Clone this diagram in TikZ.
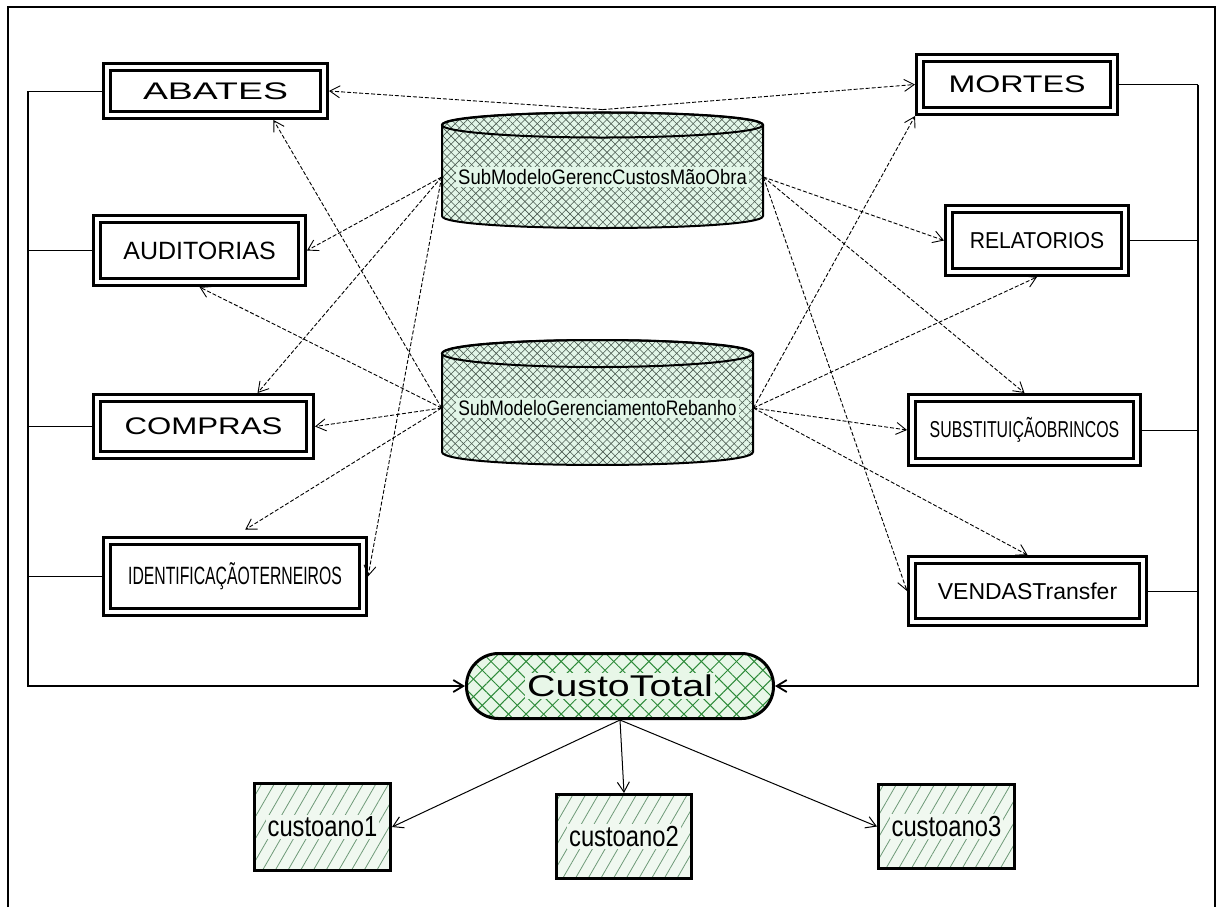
\documentclass[tikz,border=0pt]{standalone}
\usepackage{fontspec}
\setmainfont{Liberation Sans}
\usetikzlibrary{arrows.meta,patterns.meta}
\definecolor{cylfill}{HTML}{E2F6E8}
\definecolor{cylhatch}{HTML}{4A5A50}
\definecolor{ctfill}{HTML}{E8F7E8}
\definecolor{cthatch}{HTML}{2E8B3A}
\definecolor{anofill}{HTML}{F0F8F0}
\definecolor{anohatch}{HTML}{6E9A78}
\newcommand{\lbl}[3]{\scalebox{#1}[1]{\fontsize{#2pt}{#2pt}\selectfont #3}}
\setlength{\fboxsep}{1pt}
\begin{document}
\begin{tikzpicture}[x=0.5pt,y=-0.5pt,
  dbox/.style={draw,double,line width=1.5pt,double distance=2pt,outer sep=2.5pt,inner sep=0pt},
  subm/.style={draw,line width=1pt,preaction={fill=cylfill},
    preaction={pattern={Lines[angle=45,distance=2.9pt,line width=0.3pt]},pattern color=cylhatch},
    preaction={pattern={Lines[angle=-45,distance=2.9pt,line width=0.3pt]},pattern color=cylhatch}},
  ctbox/.style={draw,line width=1.5pt,rounded corners=16pt,inner sep=0pt,preaction={fill=ctfill},
    preaction={pattern={Lines[angle=45,distance=6.2pt,line width=0.5pt]},pattern color=cthatch},
    preaction={pattern={Lines[angle=-45,distance=6.2pt,line width=0.5pt]},pattern color=cthatch}},
  anobox/.style={draw,line width=1.5pt,inner sep=0pt,preaction={fill=anofill},
    preaction={pattern={Lines[angle=60,distance=5.5pt,line width=0.4pt]},pattern color=anohatch}},
  link/.style={line width=0.5pt},
  bus/.style={line width=0.9pt},
  dep/.style={dash pattern=on 2pt off 1pt,line width=0.45pt,-{Straight Barb[length=5pt,width=6pt]}},
  feed/.style={line width=0.5pt,-{Straight Barb[length=5pt,width=6pt]}}]
\def\px{0.5pt}
\useasboundingbox (0,0) rectangle (1217,907);
\draw[line width=1pt] (8,907) -- (8,7) -- (1215,7) -- (1215,907);

\path[subm] (442,125) -- (442,216) .. controls (442,232) and (763,232) .. (763,216) -- (763,125) .. controls (763,108.3) and (442,108.3) .. (442,125) -- cycle;
\draw[line width=1pt] (602.5,125) ellipse (160.5 and 12.5);
\node[minimum width=321*\px,minimum height=134*\px,inner sep=0pt] (subA) at (602.5,177) {\colorbox{cylfill}{\lbl{0.88}{10.5}{SubModeloGerencCustosMãoObra}}};

\path[subm] (442,353.5) -- (442,452) .. controls (442,469.3) and (753,469.3) .. (753,452) -- (753,353.5) .. controls (753,335.5) and (442,335.5) .. (442,353.5) -- cycle;
\draw[line width=1pt] (597.5,353.5) ellipse (155.5 and 13.5);
\node[minimum width=311*\px,minimum height=100*\px,inner sep=0pt] (subB) at (597.5,408) {\colorbox{cylfill}{\lbl{0.83}{10.5}{SubModeloGerenciamentoRebanho}}};

\node[dbox,minimum width=217*\px,minimum height=48*\px] (abates) at (215.5,91) {\lbl{1.56}{12}{ABATES}};
\node[dbox,minimum width=205*\px,minimum height=63*\px] (audit) at (199.5,250.5) {\lbl{1}{12.5}{AUDITORIAS}};
\node[dbox,minimum width=213*\px,minimum height=57*\px] (compras) at (203.5,426.5) {\lbl{1.3}{12}{COMPRAS}};
\node[dbox,minimum width=256*\px,minimum height=71*\px] (ident) at (235,576.5) {\lbl{0.63}{12.5}{IDENTIFICAÇÃOTERNEIROS}};
\node[dbox,minimum width=194*\px,minimum height=53*\px] (mortes) at (1017,84.5) {\lbl{1.34}{12}{MORTES}};
\node[dbox,minimum width=176*\px,minimum height=63*\px] (relat) at (1037,240.5) {\lbl{0.92}{11.5}{RELATORIOS}};
\node[dbox,minimum width=225*\px,minimum height=64*\px] (subst) at (1024.5,430) {\lbl{0.69}{11.5}{SUBSTITUIÇÃOBRINCOS}};
\node[dbox,minimum width=231*\px,minimum height=62*\px] (vendas) at (1027.5,591) {\lbl{1}{11.5}{VENDASTransfer}};

\node[ctbox,minimum width=307*\px,minimum height=65*\px] (custo) at (620,686) {\colorbox{ctfill}{\lbl{1.31}{15}{CustoTotal}}};
\node[anobox,minimum width=136*\px,minimum height=87*\px] (ano1) at (322.5,827) {\colorbox{anofill}{\lbl{0.82}{14.5}{custoano1}}};
\node[anobox,minimum width=135*\px,minimum height=84*\px] (ano2) at (624,836.5) {\colorbox{anofill}{\lbl{0.82}{14.5}{custoano2}}};
\node[anobox,minimum width=136*\px,minimum height=84*\px] (ano3) at (946.5,826.5) {\colorbox{anofill}{\lbl{0.82}{14.5}{custoano3}}};

\draw[dep] (subA.north) -- (abates.east);
\draw[dep] (subA.north) -- (mortes.west);
\draw[dep] (subA.west) -- (audit.east);
\draw[dep] (subA.west) -- ([xshift=27pt]compras.north);
\draw[dep] (subA.west) -- (ident.east);
\draw[dep] (subA.east) -- (relat.west);
\draw[dep] (subA.east) -- (subst.north);
\draw[dep] (subA.east) -- (vendas.west);
\draw[dep] (subB.west) -- ([xshift=29pt]abates.south);
\draw[dep] (subB.west) -- (audit.south);
\draw[dep] (subB.west) -- (compras.east);
\draw[dep,shorten >=6pt] (subB.west) -- (ident.north);
\draw[dep] (subB.east) -- (mortes.south west);
\draw[dep] (subB.east) -- (relat.south);
\draw[dep] (subB.east) -- (subst.west);
\draw[dep] (subB.east) -- (vendas.north);

\coordinate (busL) at (28,686);
\coordinate (busR) at (1198,686);
\draw[link] (abates.west) -- (abates.west -| busL);
\draw[link] (audit.west) -- (audit.west -| busL);
\draw[link] (compras.west) -- (compras.west -| busL);
\draw[link] (ident.west) -- (ident.west -| busL);
\draw[bus,-{Straight Barb[length=5pt,width=6pt]}] (abates.west -| busL) -- (busL) -- (custo.west);
\draw[link] (mortes.east) -- (mortes.east -| busR);
\draw[link] (relat.east) -- (relat.east -| busR);
\draw[link] (subst.east) -- (subst.east -| busR);
\draw[link] (vendas.east) -- (vendas.east -| busR);
\draw[bus,-{Straight Barb[length=5pt,width=6pt]}] (mortes.east -| busR) -- (busR) -- (custo.east);

\draw[feed] (custo.south) -- (ano1.east);
\draw[feed] (custo.south) -- (ano2.north);
\draw[feed] (custo.south) -- (ano3.west);
\end{tikzpicture}
\end{document}
